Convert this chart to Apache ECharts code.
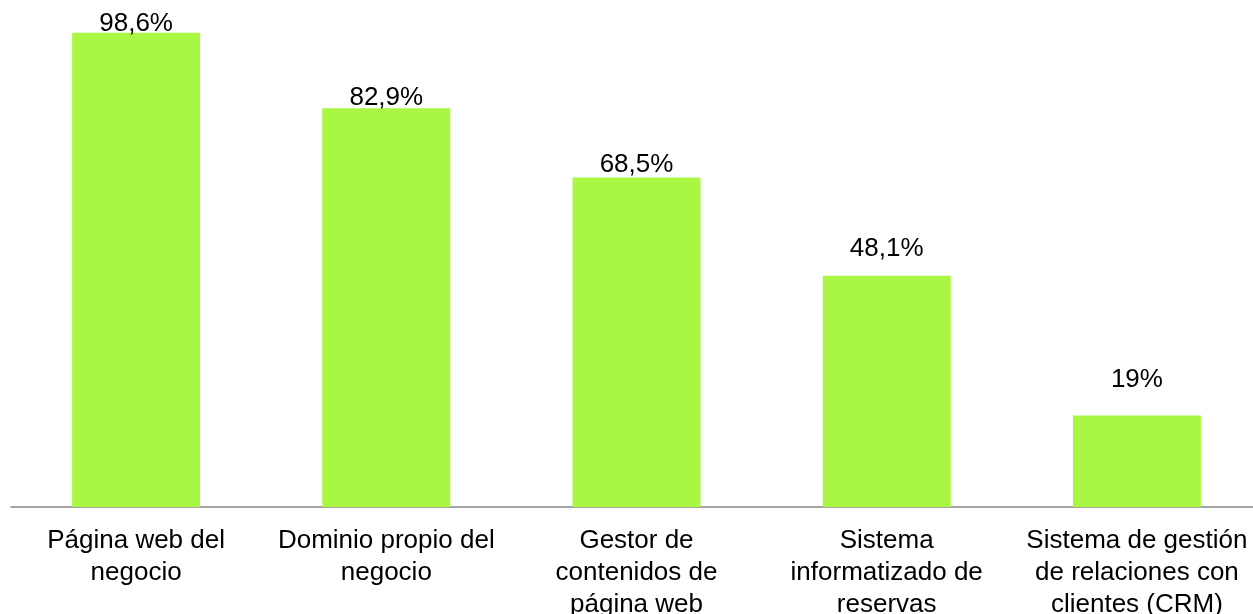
<!DOCTYPE html>
<html>
<head>
<meta charset="utf-8">
<script src="https://cdn.jsdelivr.net/npm/echarts@6/dist/echarts.min.js"></script>
<style>
  html, body { margin: 0; padding: 0; background: #fff; }
  #main { width: 1253px; height: 614px; }
</style>
</head>
<body>
<div id="main"></div>
<script>
// categories and values (percent)
var categories = [
  'Página web del\nnegocio',
  'Dominio propio del\nnegocio',
  'Gestor de\ncontenidos de\npágina web',
  'Sistema\ninformatizado de\nreservas',
  'Sistema de gestión\nde relaciones con\nclientes (CRM)'
]
var values = [98.6, 82.9, 68.5, 48.1, 19]
var valueLabels = ['98,6%', '82,9%', '68,5%', '48,1%', '19%']
// gap between label and bar top, as in the reference
var labelGaps = [-4, -3, 0, 14, 23]

var chart = echarts.init(document.getElementById('main'))

var seriesData = values.map(function (v, i) {
  return {
    value: v,
    label: { distance: labelGaps[i] }
  }
})

var option = {
  animation: false,
  grid: {
    left: 11,
    right: -9,
    top: 26,
    bottom: 107,
    containLabel: false,
    outerBoundsMode: 'none'
  },
  xAxis: {
    type: 'category',
    data: categories,
    axisLine: { lineStyle: { color: '#868686', width: 1.5 } },
    axisTick: { show: false },
    axisLabel: {
      interval: 0,
      margin: 18,
      color: '#000',
      fontFamily: 'Liberation Sans, Arial, sans-serif',
      fontSize: 26,
      lineHeight: 32,
      align: 'center'
    }
  },
  yAxis: {
    type: 'value',
    min: 0,
    max: 100,
    show: false,
    splitLine: { show: false }
  },
  series: [
    {
      type: 'bar',
      data: seriesData,
      barWidth: 128,
      itemStyle: { color: '#AAF743' },
      label: {
        show: true,
        position: 'top',
        color: '#000',
        fontFamily: 'Liberation Sans, Arial, sans-serif',
        fontSize: 26,
        formatter: function (p) {
          return valueLabels[p.dataIndex]
        }
      }
    }
  ]
}

chart.setOption(option)
</script>
</body>
</html>
